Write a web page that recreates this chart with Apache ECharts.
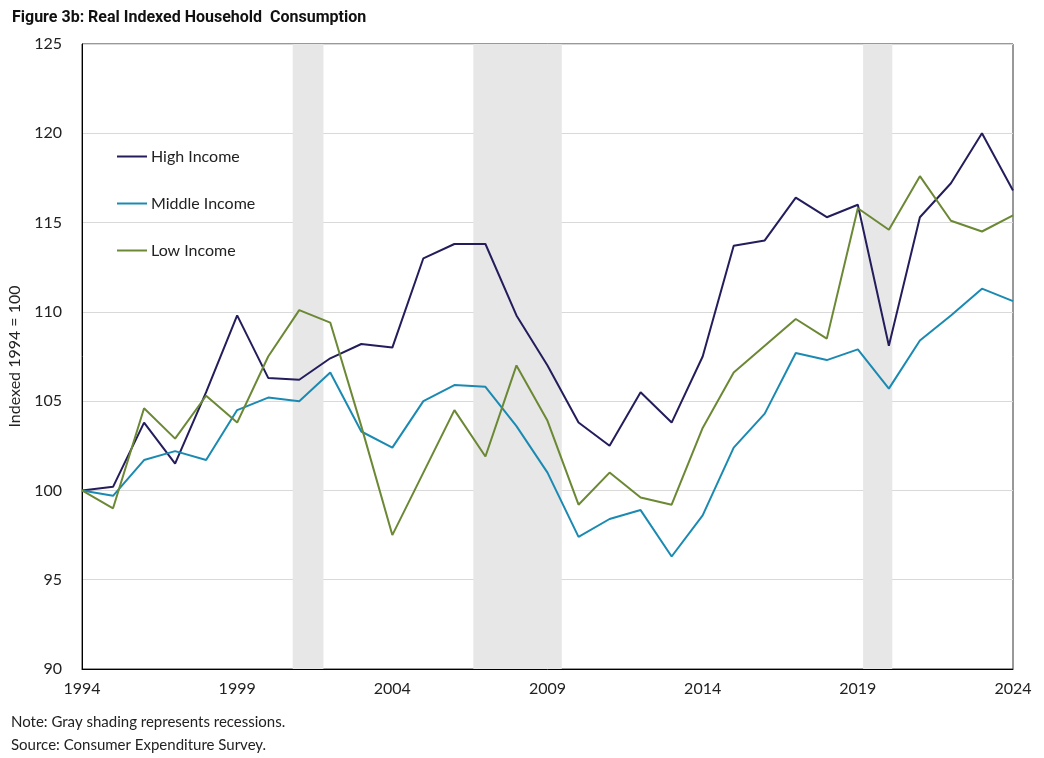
<!DOCTYPE html>
<html>
<head>
<meta charset="utf-8">
<script src="https://cdn.jsdelivr.net/npm/echarts@6/dist/echarts.min.js"></script>
<style>
  html, body { margin:0; padding:0; background:#fff; }
  #chart { width:1044px; height:758px; }
</style>
</head>
<body>
<div id="chart"></div>
<script>
var years = [1994,1995,1996,1997,1998,1999,2000,2001,2002,2003,2004,2005,2006,2007,2008,2009,
             2010,2011,2012,2013,2014,2015,2016,2017,2018,2019,2020,2021,2022,2023,2024];

var highIncome = [100.0,100.2,103.8,101.5,105.5,109.8,106.3,106.2,107.4,108.2,108.0,113.0,113.8,113.8,109.8,107.0,
                  103.8,102.5,105.5,103.8,107.5,113.7,114.0,116.4,115.3,116.0,108.1,115.3,117.2,120.0,116.8];
var middleIncome = [100.0,99.7,101.7,102.2,101.7,104.5,105.2,105.0,106.6,103.3,102.4,105.0,105.9,105.8,103.6,101.0,
                    97.4,98.4,98.9,96.3,98.6,102.4,104.3,107.7,107.3,107.9,105.7,108.4,109.8,111.3,110.6];
var lowIncome = [100.0,99.0,104.6,102.9,105.3,103.8,107.5,110.1,109.4,103.6,97.5,101.0,104.5,101.9,107.0,103.9,
                 99.2,101.0,99.6,99.2,103.5,106.6,108.1,109.6,108.5,115.8,114.6,117.6,115.1,114.5,115.4];

// recession shading, start/end in fractional years
var recessions = [[2000.79, 2001.78], [2006.61, 2009.46], [2019.17, 2020.11]];

var xTicks = [1994,1999,2004,2009,2014,2019,2024];

function pairs(vals){
	return years.map(function(y,i){ return [y, vals[i]]; });
}

var myChart = echarts.init(document.getElementById('chart'));
var font = 'Lato, "Open Sans", sans-serif';

var option = {
	backgroundColor: '#fff',
	animation: false,
	title: {
		text: 'Figure 3b: Real Indexed Household  Consumption',
		left: 7, top: 5,
		textStyle: { fontFamily: 'Roboto, sans-serif', fontWeight: 'bold', fontSize: 16, color: '#111' }
	},
	grid: {
		left: 82, right: 31, top: 44, bottom: 89,
		outerBoundsMode: 'none',
		show: true, borderColor: '#333', borderWidth: 1
	},
	legend: {
		orient: 'vertical',
		left: 112, top: 142,
		icon: 'rect',
		itemWidth: 30, itemHeight: 2,
		itemGap: 28,
		itemStyle: { borderWidth: 0 },
		textStyle: { fontFamily: font, fontSize: 16, color: '#222', lineHeight: 19, padding: [0, 0, 0, -1] },
		data: ['High Income', 'Middle Income', 'Low Income']
	},
	xAxis: {
		type: 'value',
		min: 1994, max: 2024,
		axisLine: { lineStyle: { color: '#000', width: 1 } },
		axisTick: { show: false },
		splitLine: { show: false },
		axisLabel: {
			customValues: xTicks,
			margin: 12,
			fontFamily: font, fontSize: 16, color: '#222',
			formatter: function(v){ return String(v); }
		}
	},
	yAxis: {
		type: 'value',
		min: 90, max: 125, interval: 5,
		name: 'Indexed 1994 = 100',
		nameLocation: 'middle',
		nameGap: 56,
		nameTextStyle: { fontFamily: font, fontSize: 16, color: '#222' },
		axisLine: { show: true, lineStyle: { color: '#000', width: 1 } },
		axisTick: { show: false },
		axisLabel: { margin: 20, fontFamily: font, fontSize: 16, color: '#222' },
		splitLine: { lineStyle: { color: '#d9d9d9', width: 1 } }
	},
	graphic: [
		{ type: 'text', left: 11, top: 715, style: { text: 'Note: Gray shading represents recessions.', font: '15px ' + font, fill: '#222' } },
		{ type: 'text', left: 11, top: 738, style: { text: 'Source: Consumer Expenditure Survey.', font: '15px ' + font, fill: '#222' } }
	],
	series: [
		{
			name: 'recessions', type: 'line', data: [], silent: true,
			markArea: {
				silent: true,
				itemStyle: { color: '#e7e7e7' },
				data: recessions.map(function(r){ return [{ xAxis: r[0] }, { xAxis: r[1] }]; })
			}
		},
		{
			name: 'High Income', type: 'line', data: pairs(highIncome),
			symbol: 'none', color: '#231d5c',
			lineStyle: { width: 2 }
		},
		{
			name: 'Middle Income', type: 'line', data: pairs(middleIncome),
			symbol: 'none', color: '#1a8ab2',
			lineStyle: { width: 2 }
		},
		{
			name: 'Low Income', type: 'line', data: pairs(lowIncome),
			symbol: 'none', color: '#6b8834',
			lineStyle: { width: 2 }
		}
	]
};

myChart.setOption(option);
</script>
</body>
</html>
